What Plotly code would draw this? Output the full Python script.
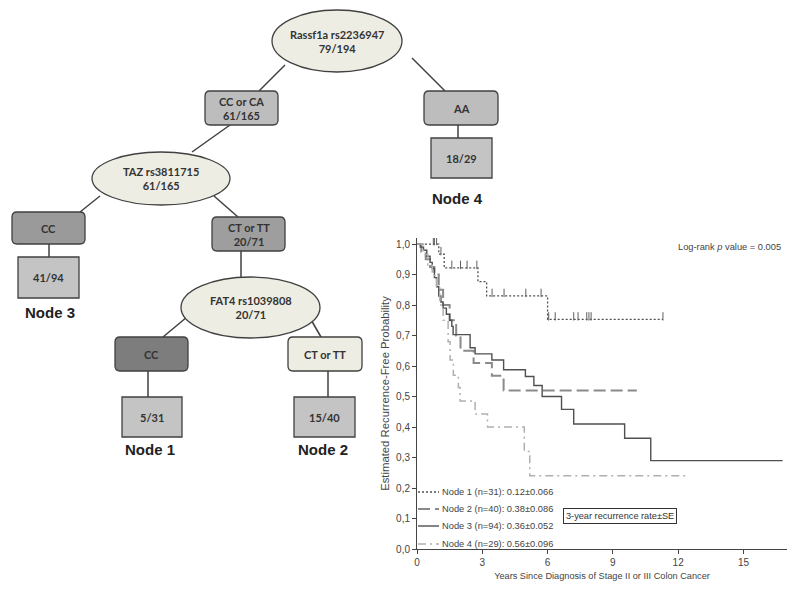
import numpy as np
import plotly.graph_objects as go

# Kaplan-Meier step curves (years, survival)
node1_t = [0, 1.0, 1.25, 2.8, 3.2, 6.0, 11.3]
node1_s = [1.0, 0.967, 0.922, 0.877, 0.83, 0.753, 0.753]
node1_cens = [0.75, 0.8, 0.9, 1.1, 1.6, 2.0, 2.3, 2.75, 3.45, 4.0, 5.0, 5.7,
              6.05, 6.35, 7.2, 7.4, 7.8, 7.9, 8.0, 11.3]

node2_t = [0, 0.2, 0.4, 0.6, 0.8, 1.0, 1.2, 1.5, 1.8, 2.0, 2.6, 3.44, 3.98, 10.1]
node2_s = [1.0, 0.975, 0.95, 0.925, 0.9, 0.85, 0.8, 0.75, 0.7, 0.65, 0.61, 0.568, 0.52, 0.52]

node3_t = [0, 0.15, 0.3, 0.45, 0.6, 0.7, 0.8, 0.9, 1.0, 1.1, 1.2, 1.35, 1.5, 1.6,
           1.66, 2.44, 2.67, 3.44, 3.98, 4.98, 5.37, 5.75, 6.64, 7.2, 9.54, 10.74, 16.8]
node3_s = [1.0, 0.99, 0.98, 0.96, 0.94, 0.92, 0.89, 0.86, 0.83, 0.81, 0.79, 0.77, 0.75, 0.73,
           0.703, 0.66, 0.64, 0.62, 0.588, 0.566, 0.536, 0.50, 0.458, 0.41, 0.363, 0.29, 0.29]

node4_t = [0, 0.3, 0.5, 0.7, 0.9, 1.05, 1.2, 1.43, 1.52, 1.67, 1.9, 1.98, 2.67, 3.24, 4.93, 5.18, 12.4]
node4_s = [1.0, 0.966, 0.931, 0.897, 0.862, 0.80, 0.75, 0.68, 0.62, 0.57, 0.53, 0.485, 0.443,
           0.40, 0.32, 0.24, 0.24]

legend_labels = ["Node 1 (n=31): 0.12±0.066", "Node 2 (n=40): 0.38±0.086",
                 "Node 3 (n=94): 0.36±0.052", "Node 4 (n=29): 0.56±0.096"]

x_ticks = [0, 3, 6, 9, 12, 15]
y_ticks = [0, 0.1, 0.2, 0.3, 0.4, 0.5, 0.6, 0.7, 0.8, 0.9, 1.0]

# decision tree content
tree_labels = ["Rassf1a rs2236947<br>79/194", "CC or CA<br>61/165", "AA", "18/29",
               "TAZ rs3811715<br>61/165", "CC", "41/94", "CT or TT<br>20/71",
               "FAT4 rs1039808<br>20/71", "CC", "CT or TT", "5/31", "15/40"]
leaf_names = ["Node 1", "Node 2", "Node 3", "Node 4"]

# layout of the tree (pixel units), kept apart from the content above
tree_geom = [
    ("ellipse", 272, 10, 402, 72, "#eeede3"),
    ("round", 205, 91, 278, 125, "#bdbdbd"),
    ("round", 424, 91, 498, 125, "#bdbdbd"),
    ("rect", 431, 138, 492, 178, "#c4c4c4"),
    ("ellipse", 92, 152, 230, 205, "#eeede3"),
    ("round", 12, 212, 85, 244, "#9a9a9a"),
    ("rect", 18, 257, 79, 298, "#c4c4c4"),
    ("round", 212, 217, 285, 251, "#9e9e9e"),
    ("ellipse", 181, 277, 320, 338, "#eeede3"),
    ("round", 115, 337, 188, 371, "#7d7d7d"),
    ("round", 288, 337, 362, 371, "#eeede3"),
    ("rect", 122, 397, 182, 437, "#c4c4c4"),
    ("rect", 294, 397, 355, 437, "#c4c4c4"),
]
edges = [(285, 65, 259, 91), (412, 58, 445, 91), (458, 125, 458, 138),
         (230, 125, 192, 152), (100, 196, 80, 212), (49, 244, 49, 257),
         (214, 196, 238, 217), (241, 251, 241, 277), (187, 317, 163, 337),
         (310, 318, 321, 337), (148, 371, 148, 397), (328, 371, 328, 397)]
leaf_pos = [(150, 449), (323, 449), (50, 312), (457, 198)]
legend_rows = [492, 509, 526, 544]

# the page body has an 8px margin; pixel coordinates below are page pixels
OFF = 8
W, H = 800, 595
SANS = "Liberation Sans"


def rrect(x0, y0, x1, y1, r=5):
    return (f"M{x0+r},{y0} L{x1-r},{y0} Q{x1},{y0} {x1},{y0+r} L{x1},{y1-r} "
            f"Q{x1},{y1} {x1-r},{y1} L{x0+r},{y1} Q{x0},{y1} {x0},{y1-r} "
            f"L{x0},{y0+r} Q{x0},{y0} {x0+r},{y0} Z")


def step_at(ts, ss, t):
    i = np.searchsorted(ts, t, side="right") - 1
    return ss[i]


fig = go.Figure()

styles = [("#505050", "2px,2px", 1.3), ("#8a8a8a", "12px,5px", 2), ("#505050", "solid", 1.4),
          ("#b0b0b0", "8px,4px,2px,4px", 1.5)]
curves = [(node1_t, node1_s), (node2_t, node2_s), (node3_t, node3_s), (node4_t, node4_s)]
for (t, s), (col, dash, w), lab in zip(curves, styles, legend_labels):
    fig.add_trace(go.Scatter(x=t, y=s, mode="lines", line_shape="hv", name=lab,
                             showlegend=False, line=dict(color=col, dash=dash, width=w)))

fig.add_trace(go.Scatter(x=node1_cens, y=[step_at(node1_t, node1_s, c) + 0.01 for c in node1_cens],
                         mode="markers", showlegend=False,
                         marker=dict(symbol="line-ns-open", size=6, color="#606060",
                                     line=dict(width=1, color="#606060"))))

# invisible helper trace so the pixel-unit tree axes exist
fig.add_trace(go.Scatter(x=[OFF], y=[OFF], xaxis="x2", yaxis="y2", mode="markers",
                         marker=dict(opacity=0), showlegend=False, hoverinfo="skip"))

for x0, y0, x1, y1 in edges:
    fig.add_shape(type="line", x0=x0, y0=y0, x1=x1, y1=y1, xref="x2", yref="y2",
                  line=dict(color="#404040", width=1.5))

for (kind, x0, y0, x1, y1, fill), lab in zip(tree_geom, tree_labels):
    ln = dict(color="#404040", width=1.3)
    if kind == "ellipse":
        fig.add_shape(type="circle", x0=x0, y0=y0, x1=x1, y1=y1, xref="x2", yref="y2",
                      fillcolor=fill, line=ln)
    elif kind == "round":
        fig.add_shape(type="path", path=rrect(x0, y0, x1, y1), xref="x2", yref="y2",
                      fillcolor=fill, line=ln)
    else:
        fig.add_shape(type="rect", x0=x0, y0=y0, x1=x1, y1=y1, xref="x2", yref="y2",
                      fillcolor=fill, line=ln)
    fig.add_annotation(x=(x0 + x1) / 2, y=(y0 + y1) / 2, xref="x2", yref="y2",
                       text=f"<b>{lab}</b>", showarrow=False,
                       font=dict(family="Lato", size=11, color="#333333"))

for (x, y), name in zip(leaf_pos, leaf_names):
    fig.add_annotation(x=x, y=y, xref="x2", yref="y2", text=f"<b>{name}</b>", showarrow=False,
                       font=dict(family=SANS, size=15, color="#222222"))

# hand-drawn legend inside the KM panel
for yrow, (col, dash, w), lab in zip(legend_rows, styles, legend_labels):
    fig.add_shape(type="line", x0=418, x1=439, y0=yrow, y1=yrow, xref="x2", yref="y2",
                  line=dict(color=col, dash=dash, width=w))
    fig.add_annotation(x=440, y=yrow, xref="x2", yref="y2", xanchor="left", text=lab,
                       showarrow=False, font=dict(family=SANS, size=9.3, color="#444444"))

fig.add_annotation(x=783, y=247, xref="x2", yref="y2", xanchor="right",
                   text="Log-rank <i>p</i> value = 0.005", showarrow=False,
                   font=dict(family=SANS, size=9.3, color="#444444"))
fig.add_annotation(x=620, y=516, xref="x2", yref="y2",
                   text="3-year recurrence rate±SE", showarrow=False,
                   bordercolor="#333333", borderwidth=1, borderpad=2, bgcolor="white",
                   font=dict(family=SANS, size=9.2, color="#333333"))

tick_font = dict(family=SANS, size=10, color="#444444")
fig.update_layout(
    width=W, height=H,
    margin=dict(l=0, r=0, t=0, b=0),
    paper_bgcolor="white", plot_bgcolor="rgba(0,0,0,0)",
    separators=",.",
    xaxis=dict(domain=[(417 - OFF) / W, (787 - OFF) / W], range=[0, 17], tickvals=x_ticks,
               showline=True, linecolor="#444444", linewidth=1, ticks="outside",
               ticklen=4, tickcolor="#444444", showgrid=False, zeroline=False,
               tickfont=tick_font, automargin=False,
               title=dict(text="Years Since Diagnosis of Stage II or III Colon Cancer",
                          font=dict(family=SANS, size=9.2, color="#444444"), standoff=5)),
    yaxis=dict(domain=[1 - (549 - OFF) / H, 1 - (238 - OFF) / H], range=[0, 1.02],
               tickvals=y_ticks, tickformat=".1f", showline=True, linecolor="#444444",
               linewidth=1, ticks="outside", ticklen=4, tickcolor="#444444",
               showgrid=False, zeroline=False, tickfont=tick_font, automargin=False,
               title=dict(text="Estimated Recurrence-Free Probability",
                          font=dict(family=SANS, size=11.3, color="#444444"), standoff=4)),
    xaxis2=dict(domain=[0, 1], range=[OFF, W + OFF], visible=False, anchor="y2"),
    yaxis2=dict(domain=[0, 1], range=[H + OFF, OFF], visible=False, anchor="x2"),
    showlegend=False,
)

fig.write_html("out.html")
